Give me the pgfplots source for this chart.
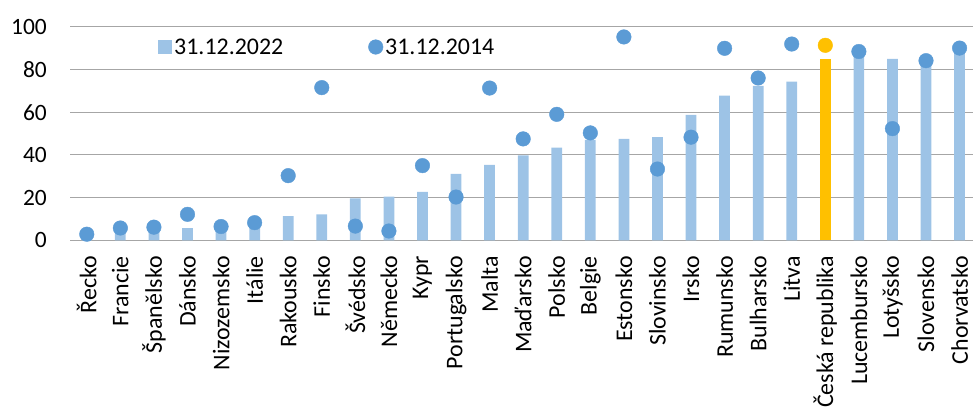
\documentclass[border=0pt]{standalone}
\usepackage{fontspec}
\setmainfont{Carlito}
\usepackage{pgfplots}
\pgfplotsset{compat=1.18}
\definecolor{barblue}{HTML}{9DC3E6}
\definecolor{dotblue}{HTML}{5B9BD5}
\definecolor{czyellow}{HTML}{FFC000}
\definecolor{gridgray}{HTML}{A6A6A6}
\begin{document}
\begin{tikzpicture}
\begin{axis}[
  scale only axis, width=903bp, height=213.7bp,
  xmin=-0.5, xmax=26.4, ymin=0, ymax=100,
  clip=false,
  axis line style={draw=none},
  tick style={draw=none},
  major tick length=0pt,
  ymajorgrids, grid style={gridgray, line width=0.9bp},
  ytick={0,20,40,60,80,100},
  xtick={0,...,26},
  xticklabels={Řecko,Francie,Španělsko,Dánsko,Nizozemsko,Itálie,Rakousko,Finsko,Švédsko,Německo,Kypr,Portugalsko,Malta,Maďarsko,Polsko,Belgie,Estonsko,Slovinsko,Irsko,Rumunsko,Bulharsko,Litva,Česká republika,Lucembursko,Lotyšsko,Slovensko,Chorvatsko},
  /pgf/number format/assume math mode=true,
  tick label style={text=black},
  xticklabel style={font=\fontsize{24}{28}\selectfont, yshift=-15.5bp, rotate=90, anchor=east, inner sep=0pt},
  yticklabel style={font=\fontsize{23.5}{28}\selectfont, anchor=east, inner sep=0pt, xshift=-23bp},
  legend columns=2,
  legend style={draw=none, fill=none, inner sep=0pt, at={(0.0975,0.905)}, anchor=west,
    font=\fontsize{24}{28}\selectfont,
    /tikz/every even column/.append style={column sep=83bp}},
]
\addplot[ybar, bar shift=0pt, bar width=0.32, fill=barblue, draw=none,
  legend image code/.code={\fill[barblue] (0bp,-7bp) rectangle (14bp,7bp);}]
  coordinates {(0,1.5) (1,4.5) (2,5) (3,5.8) (4,5) (5,6.5) (6,11.4) (7,12.2) (8,19.7) (9,20.5)
  (10,22.7) (11,31.1) (12,35.3) (13,39.8) (14,43.4) (15,47) (16,47.5) (17,48.3) (18,58.7)
  (19,67.8) (20,72.3) (21,74.3) (23,86.5) (24,84.9) (25,83) (26,88.5)};
\addlegendentry{31.12.2022}
\addplot[ybar, bar shift=0pt, bar width=0.32, fill=czyellow, draw=none, forget plot]
  coordinates {(22,84.9)};
\addplot[only marks, mark=*, mark size=7.3bp, color=dotblue, mark options={fill=dotblue, draw=none},
  legend image code/.code={\fill[dotblue] (7.3bp,0bp) circle (7.3bp);}]
  coordinates {(0,2.9) (1,5.8) (2,6.2) (3,12.2) (4,6.5) (5,8.3) (6,30.3) (7,71.5) (8,6.7) (9,4.4)
  (10,35) (11,20.3) (12,71.3) (13,47.5) (14,59) (15,50.3) (16,95.2) (17,33.4) (18,48.3)
  (19,89.9) (20,76) (21,91.9) (23,88.4) (24,52.3) (25,84.1) (26,90)};
\addlegendentry{31.12.2014}
\addplot[only marks, mark=*, mark size=7.3bp, color=czyellow, mark options={fill=czyellow, draw=none}, forget plot]
  coordinates {(22,91.3)};
\end{axis}
\pgfresetboundingbox
\path[use as bounding box] ([shift={(-70bp,-166.6bp)}]current axis.south west) rectangle ([shift={(0bp,26.7bp)}]current axis.north east);
\end{tikzpicture}
\end{document}
